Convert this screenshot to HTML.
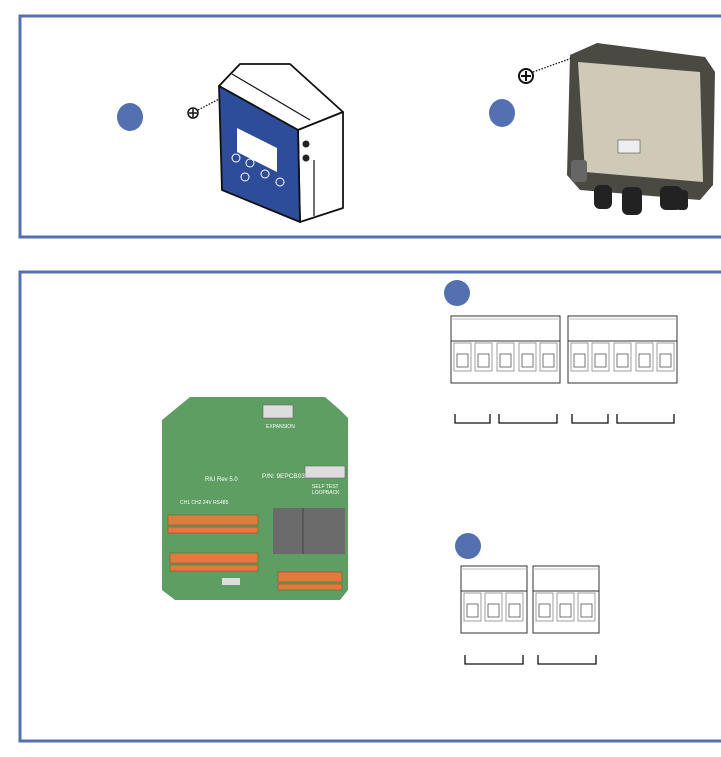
<!DOCTYPE html>
<html><head><meta charset="utf-8"><style>
html,body{margin:0;padding:0;background:#fff;width:721px;height:757px;overflow:hidden}
</style></head><body>
<svg width="721" height="757" viewBox="0 0 721 757" xmlns="http://www.w3.org/2000/svg">
<path d="M725 16 H20 V237 H725" fill="none" stroke="#5470b0" stroke-width="3"/>
<path d="M725 272 H20 V741 H725" fill="none" stroke="#5470b0" stroke-width="3"/>
<ellipse cx="130" cy="117" rx="13" ry="14" fill="#5470b0"/>
<ellipse cx="502" cy="113" rx="13" ry="14" fill="#5470b0"/>
<circle cx="457" cy="293" r="13" fill="#5470b0"/>
<circle cx="468" cy="546" r="13" fill="#5470b0"/>

<!-- enclosure 1 -->
<g stroke="#111" stroke-width="1.8" stroke-linejoin="round">
<path d="M219,86 L240,64 L290,64 L343,112 L298,130 Z" fill="#fff"/>
<line x1="232" y1="74" x2="310" y2="120" stroke-width="1.2"/>
<path d="M298,130 L343,112 L343,208 L300,222 Z" fill="#fff"/>
<path d="M219,86 L298,130 L300,222 L222,190 Z" fill="#2d4d9a"/>
<line x1="314" y1="160" x2="314" y2="216" stroke-width="1.2"/>
</g>
<polygon points="237,128 277,148 277,172 237,152" fill="#fff"/>
<g fill="none" stroke="#fff" stroke-width="1">
<circle cx="236" cy="158" r="4"/><circle cx="250" cy="163" r="4"/><circle cx="265" cy="174" r="4"/><circle cx="280" cy="182" r="4"/><circle cx="245" cy="177" r="4"/>
</g>
<circle cx="306" cy="144" r="3.5" fill="#222"/><circle cx="306" cy="158" r="3.5" fill="#222"/>
<circle cx="193" cy="113" r="5" fill="#fff" stroke="#111" stroke-width="1.5"/>
<path d="M189,113 h8 M193,109 v8" stroke="#111" stroke-width="1.5"/>
<line x1="198" y1="110" x2="219" y2="99" stroke="#111" stroke-width="1.3" stroke-dasharray="1.5,1.5"/>

<!-- enclosure 2 -->
<path d="M570,55 L597,43 L705,57 L715,72 L713,185 L700,200 L580,190 L567,175 Z" fill="#4b4a42"/>
<path d="M578,62 L700,72 L703,182 L585,172 Z" fill="#cfcab8"/>
<rect x="571" y="160" width="16" height="22" fill="#666" rx="3"/>
<g fill="#222">
<rect x="594" y="185" width="18" height="24" rx="6"/><rect x="622" y="187" width="20" height="28" rx="6"/><rect x="660" y="186" width="22" height="24" rx="6"/><rect x="676" y="190" width="12" height="20" rx="4"/>
</g>
<rect x="618" y="140" width="22" height="13" fill="#eee" stroke="#333" stroke-width="0.5"/>
<circle cx="526" cy="76" r="7" fill="#fff" stroke="#111" stroke-width="2"/>
<path d="M521,76 h10 M526,71 v10" stroke="#111" stroke-width="2"/>
<line x1="533" y1="72" x2="572" y2="58" stroke="#111" stroke-width="1.3" stroke-dasharray="1.5,1.5"/>

<!-- PCB -->
<path d="M190,397 H325 L340,410 L348,418 V590 L340,600 H175 L162,590 V420 Z" fill="#5e9e62"/>
<rect x="263" y="405" width="30" height="13" fill="#ddd" stroke="#666" stroke-width="0.6"/>
<text x="266" y="428" font-family="Liberation Sans,sans-serif" font-size="5" fill="#fff">EXPANSION</text>
<text x="205" y="481" font-family="Liberation Sans,sans-serif" font-size="6" fill="#fff">RIU Rev 5.0</text>
<text x="262" y="478" font-family="Liberation Sans,sans-serif" font-size="6.5" fill="#fff">P/N: 9EPCB033</text>
<rect x="305" y="466" width="40" height="12" fill="#ddd" stroke="#666" stroke-width="0.6"/>
<text x="312" y="488" font-family="Liberation Sans,sans-serif" font-size="5" fill="#fff">SELF TEST</text>
<text x="312" y="494" font-family="Liberation Sans,sans-serif" font-size="5" fill="#fff">LOOPBACK</text>
<text x="180" y="504" font-family="Liberation Sans,sans-serif" font-size="5" fill="#fff">CH1   CH2    24V  RS485</text>
<rect x="273" y="508" width="72" height="46" fill="#6b6b6b"/>
<line x1="303" y1="508" x2="303" y2="554" stroke="#444"/>
<g fill="#e07a3e" stroke="#8a4a22" stroke-width="0.5">
<rect x="168" y="515" width="90" height="10"/><rect x="168" y="527" width="90" height="6"/>
<rect x="170" y="553" width="88" height="10"/><rect x="170" y="565" width="88" height="6"/>
<rect x="278" y="572" width="64" height="10"/><rect x="278" y="584" width="64" height="6"/>
</g>
<rect x="222" y="578" width="18" height="7" fill="#ddd"/>

<defs>
<g id="cell"><rect x="1" y="2" width="17" height="28" fill="#fff" stroke="#888" stroke-width="0.8"/><rect x="4" y="13" width="11" height="13" fill="#fff" stroke="#555" stroke-width="0.8"/></g>
</defs>
<g fill="#fff" stroke="#333" stroke-width="1">
<rect x="451" y="316" width="109" height="67"/><rect x="568" y="316" width="109" height="67"/>
<rect x="461" y="566" width="66" height="67"/><rect x="533" y="566" width="66" height="67"/>
</g>
<g stroke="#333"><line x1="451" y1="341" x2="560" y2="341"/><line x1="568" y1="341" x2="677" y2="341"/><line x1="461" y1="591" x2="527" y2="591"/><line x1="533" y1="591" x2="599" y2="591"/></g>
<g stroke="#bbb"><line x1="451" y1="319" x2="560" y2="319"/><line x1="568" y1="319" x2="677" y2="319"/><line x1="461" y1="569" x2="527" y2="569"/><line x1="533" y1="569" x2="599" y2="569"/></g>
<use href="#cell" x="453" y="341"/><use href="#cell" x="474" y="341"/><use href="#cell" x="496" y="341"/><use href="#cell" x="518" y="341"/><use href="#cell" x="539" y="341"/>
<use href="#cell" x="570" y="341"/><use href="#cell" x="591" y="341"/><use href="#cell" x="613" y="341"/><use href="#cell" x="635" y="341"/><use href="#cell" x="656" y="341"/>
<use href="#cell" x="463" y="591"/><use href="#cell" x="484" y="591"/><use href="#cell" x="505" y="591"/>
<use href="#cell" x="535" y="591"/><use href="#cell" x="556" y="591"/><use href="#cell" x="577" y="591"/>
<g fill="none" stroke="#111" stroke-width="1.3">
<path d="M455,414 V423 H490 V414"/><path d="M499,414 V423 H557 V414"/><path d="M572,414 V423 H608 V414"/><path d="M617,414 V423 H674 V414"/>
<path d="M465,655 V664 H523 V655"/><path d="M538,655 V664 H596 V655"/>
</g>
</svg>
</body></html>
